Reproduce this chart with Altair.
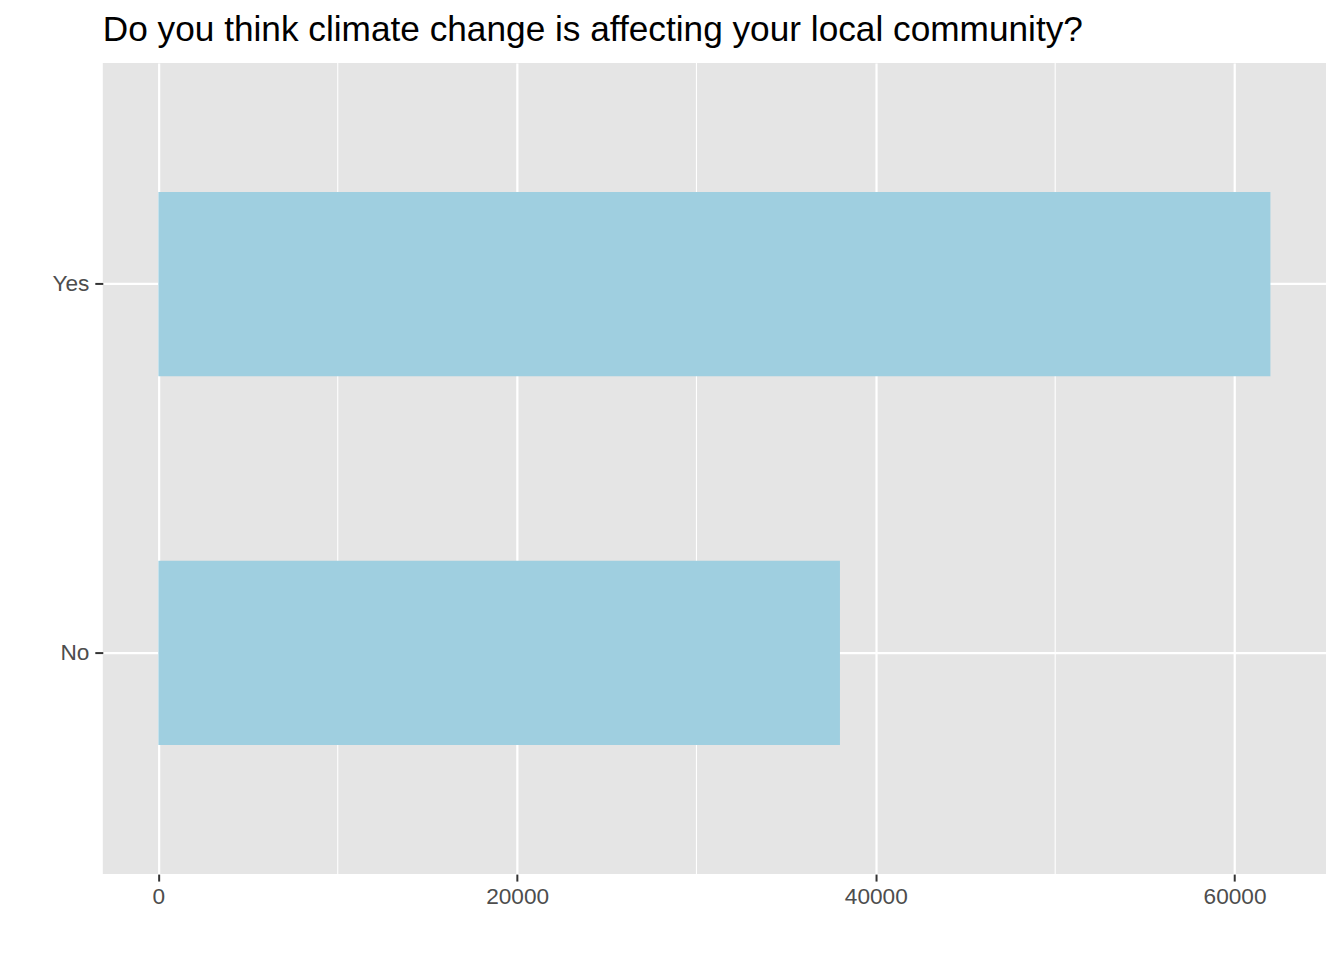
import altair as alt
import pandas as pd

answers = ["Yes", "No"]
counts = [62000, 38000]
minor_breaks = [10000, 30000, 50000]
major_breaks = [0, 20000, 40000, 60000]
x_limits = [-3100, 65100]

df = pd.DataFrame({"answer": answers, "count": counts})
minor_df = pd.DataFrame({"v": minor_breaks})

xscale = alt.Scale(domain=x_limits, nice=False, zero=False)
yscale = alt.Scale(domain=answers, paddingInner=0.5, paddingOuter=0.35)

xaxis = alt.Axis(
    values=major_breaks, format="d", title=None, grid=True,
    gridColor="white", gridWidth=2.2, domain=False,
    tickColor="#333333", tickSize=7, tickWidth=2,
    labelColor="#4D4D4D", labelFontSize=22.7, labelPadding=4,
    labelFont="Liberation Sans",
)

minor = alt.Chart(minor_df).mark_rule(color="white", strokeWidth=1.1).encode(
    x=alt.X("v:Q", scale=xscale, axis=xaxis)
)

bars = alt.Chart(df).mark_bar(color="#9FCFE0").encode(
    x=alt.X("count:Q", scale=xscale, axis=xaxis),
    y=alt.Y(
        "answer:N",
        scale=yscale,
        sort=answers,
        axis=alt.Axis(
            title=None, grid=True, gridColor="white", gridWidth=2.2,
            domain=False, tickColor="#333333", tickSize=8, tickWidth=2,
            labelColor="#4D4D4D", labelFontSize=22.7, labelPadding=6,
            labelFont="Liberation Sans", bandPosition=0.5,
        ),
    ),
)

chart = (
    alt.layer(minor, bars)
    .properties(
        width=1226,
        height=813,
        title=alt.Title(
            "Do you think climate change is affecting your local community?",
            anchor="start", frame="group", fontSize=35.3, font="Liberation Sans",
            fontWeight="normal", color="black", offset=14,
        ),
        autosize=alt.AutoSizeParams(type="none"),
        padding={"left": 95, "top": 54, "right": 10, "bottom": 60},
    )
    .configure_view(fill="#E5E5E5", stroke=None)
)

chart.save("out.html", embed_options={"renderer": "svg", "actions": False})
